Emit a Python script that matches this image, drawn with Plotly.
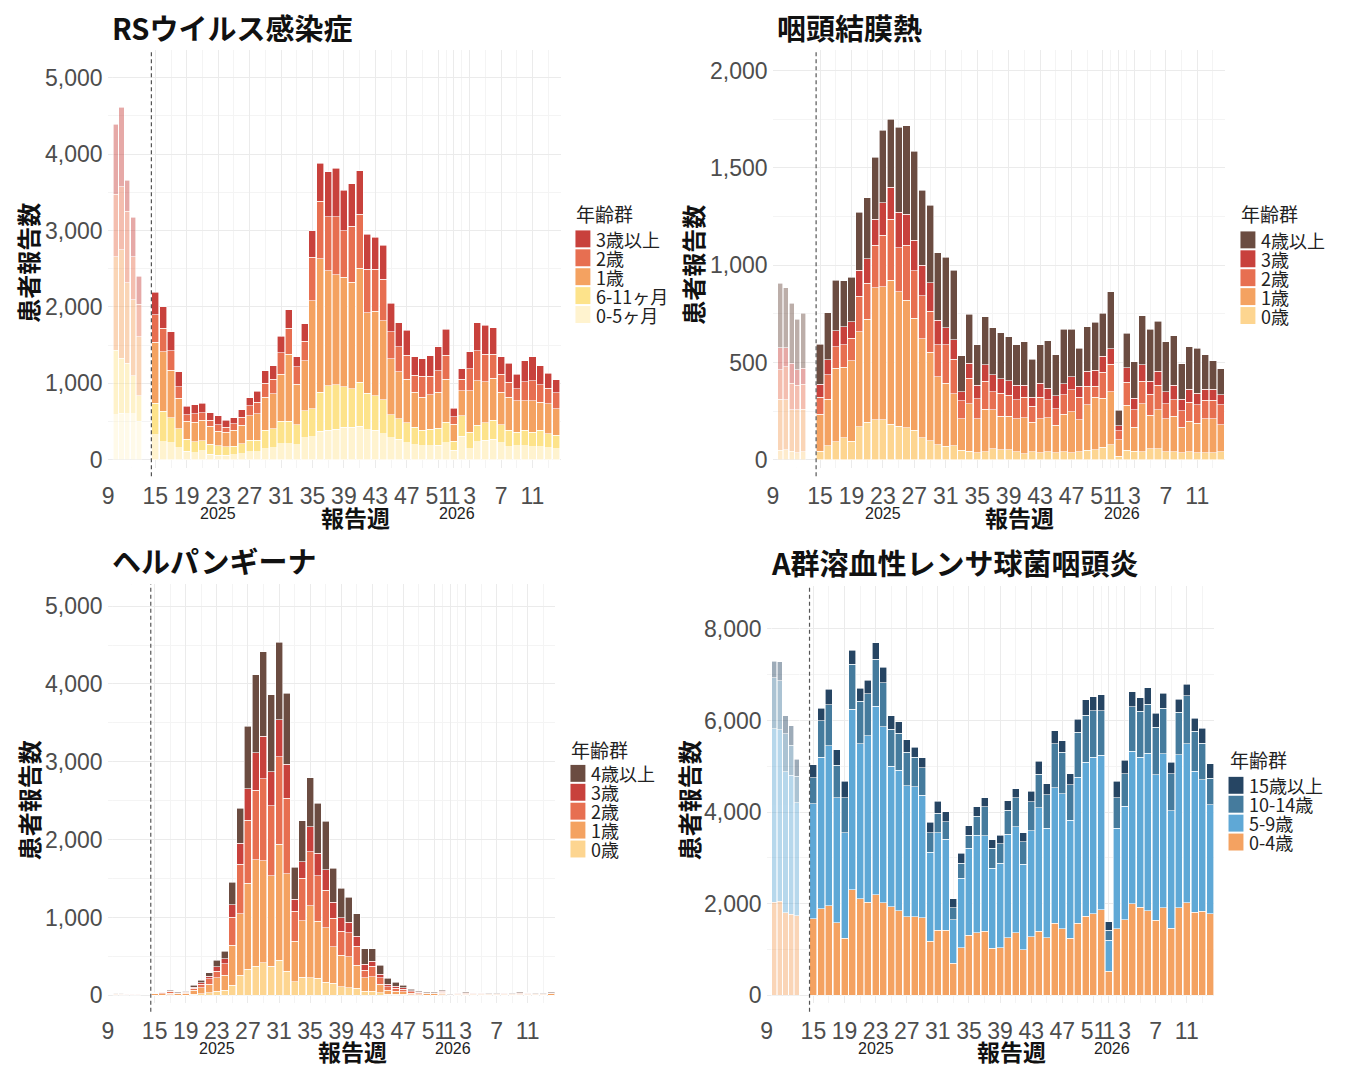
import plotly.graph_objects as go

W, H = 1345, 1069


def px(x):
    return x / W


def py(y):
    return 1 - y / H


# ---------------- x axis: report weeks ----------------
years = [2025] * 38 + [2026] * 14
weeks = list(range(15, 53)) + list(range(1, 15))
week_pos = [w if y == 2025 else w + 52 for y, w in zip(years, weeks)]
prev_weeks = [10, 11, 12, 13, 14]          # earlier weeks, shown faded
tick_pos = [9, 15, 19, 23, 27, 31, 35, 39, 43, 47, 51, 53, 55, 59, 63]
tick_text = ["9", "15", "19", "23", "27", "31", "35", "39", "43", "47", "51", "1", "3", "7", "11"]
minor_pos = [12, 17, 21, 25, 29, 33, 37, 41, 45, 49, 52, 54, 57, 61, 65]

# ---------------- RS virus ----------------
rs_names = ["0-5ヶ月", "6-11ヶ月", "1歳", "2歳", "3歳以上"]
rs_colors = ["#FFF3CF", "#FDE38B", "#F4A261", "#E76F51", "#C8413C"]
rs_0_5m = [330, 234, 225, 160, 113, 95, 117, 74, 61, 61, 69, 82, 104, 104, 147, 156, 212, 212, 199, 290,
           299, 372, 390, 398, 429, 429, 442, 394, 385, 342, 286, 268, 225, 199, 182, 182, 190, 225,
           126, 312, 147, 234, 255, 268, 221, 169, 182, 182, 169, 169, 156, 147]
rs_6_11m = [410, 402, 325, 247, 155, 139, 130, 130, 121, 108, 109, 130, 151, 151, 238, 251, 295, 295, 260, 355,
            368, 511, 580, 585, 528, 498, 571, 476, 455, 446, 303, 269, 260, 230, 203, 216, 226, 269,
            116, 268, 217, 216, 230, 247, 238, 216, 182, 203, 195, 216, 186, 173]
rs_1y = [800, 780, 623, 398, 239, 260, 268, 233, 190, 195, 207, 238, 325, 347, 433, 455, 614, 874, 533, 650,
         1416, 1745, 1507, 1437, 1429, 1398, 1494, 1053, 1104, 1035, 736, 615, 572, 454, 433, 455, 467, 563,
         221, 325, 541, 585, 537, 550, 424, 433, 411, 390, 411, 368, 390, 347]
rs_2y = [360, 307, 252, 152, 86, 108, 100, 78, 87, 65, 87, 109, 130, 151, 187, 195, 282, 338, 229, 259,
         567, 754, 701, 758, 610, 732, 706, 571, 550, 541, 351, 329, 311, 225, 273, 238, 282, 311,
         104, 152, 290, 390, 359, 316, 239, 195, 152, 247, 260, 230, 208, 208]
rs_3plus = [290, 277, 251, 195, 108, 117, 125, 100, 121, 86, 78, 95, 100, 143, 160, 173, 216, 247, 130, 226,
            346, 498, 589, 637, 529, 554, 571, 455, 416, 442, 376, 312, 325, 243, 234, 269, 312, 338,
            108, 138, 221, 368, 377, 347, 229, 251, 194, 273, 312, 247, 190, 173]
rs_prev_0_5m = [590, 612, 603, 603, 503]
rs_prev_6_11m = [847, 716, 660, 495, 335]
rs_prev_1y = [1223, 1419, 1055, 998, 772]
rs_prev_2y = [816, 825, 933, 564, 426]
rs_prev_3plus = [912, 1041, 408, 513, 364]

# ---------------- Pharyngoconjunctival fever ----------------
pcf_names = ["0歳", "1歳", "2歳", "3歳", "4歳以上"]
pcf_colors = ["#FDD590", "#F4A261", "#E76F51", "#C8413C", "#6B4C41"]
pcf_0y = [44, 73, 92, 113, 96, 169, 193, 206, 206, 184, 172, 164, 152, 113, 99, 78, 70, 73, 48, 44,
          36, 41, 58, 53, 53, 41, 31, 41, 36, 41, 36, 41, 36, 41, 48, 53, 65, 78,
          19, 49, 44, 41, 58, 58, 41, 41, 36, 41, 36, 36, 36, 41]
pcf_1y = [191, 239, 379, 363, 412, 490, 529, 679, 683, 739, 691, 657, 575, 508, 454, 350, 324, 266, 164, 243,
          176, 220, 200, 170, 170, 171, 184, 153, 176, 174, 141, 194, 210, 165, 235, 268, 252, 273,
          85, 231, 123, 246, 171, 200, 171, 182, 131, 157, 153, 176, 176, 140]
pcf_2y = [87, 125, 111, 114, 116, 182, 184, 217, 264, 312, 227, 281, 244, 222, 211, 162, 196, 178, 92, 133,
          102, 142, 93, 120, 108, 97, 106, 81, 109, 94, 86, 99, 114, 115, 94, 56, 132, 140,
          46, 119, 91, 116, 109, 124, 75, 86, 85, 99, 94, 93, 93, 102]
pcf_3y = [67, 77, 82, 94, 86, 133, 128, 133, 167, 166, 183, 159, 157, 157, 147, 128, 89, 99, 47, 76,
          68, 85, 86, 73, 75, 73, 61, 47, 73, 59, 66, 57, 68, 56, 77, 82, 82, 79,
          26, 75, 59, 85, 65, 72, 64, 73, 60, 66, 60, 58, 58, 51]
pcf_4plus = [206, 242, 259, 236, 227, 299, 312, 319, 374, 349, 435, 455, 457, 384, 396, 347, 363, 358, 185, 253,
             208, 247, 242, 237, 227, 208, 225, 195, 196, 244, 210, 279, 242, 196, 230, 247, 221, 293,
             78, 176, 188, 252, 267, 259, 256, 256, 181, 219, 230, 176, 147, 133]
pcf_prev_0y = [48, 53, 44, 36, 41]
pcf_prev_1y = [264, 256, 214, 222, 220]
pcf_prev_2y = [150, 170, 136, 124, 128]
pcf_prev_3y = [115, 98, 102, 80, 82]
pcf_prev_4plus = [329, 308, 308, 261, 281]

# ---------------- Herpangina ----------------
her_names = ["0歳", "1歳", "2歳", "3歳", "4歳以上"]
her_colors = pcf_colors
her_0y = [3, 4, 5, 3, 4, 15, 20, 34, 55, 64, 132, 256, 333, 375, 418, 375, 448, 311, 175, 235,
          226, 217, 171, 154, 111, 98, 90, 55, 55, 34, 17, 17, 12, 8, 5, 4, 4, 6,
          1, 3, 4, 3, 3, 3, 3, 3, 3, 4, 3, 3, 3, 4]
her_1y = [15, 18, 25, 17, 22, 50, 75, 107, 171, 192, 512, 793, 1108, 1365, 1313, 1160, 1496, 1250, 520, 724,
          925, 734, 695, 469, 401, 397, 298, 171, 184, 107, 47, 38, 35, 22, 16, 14, 14, 20,
          4, 11, 13, 11, 11, 9, 9, 11, 9, 13, 11, 9, 9, 14]
her_2y = [8, 10, 15, 10, 12, 28, 45, 72, 85, 149, 358, 635, 810, 895, 1053, 900, 1118, 968, 384, 546,
          695, 588, 481, 370, 311, 307, 243, 98, 136, 85, 47, 35, 30, 18, 13, 11, 11, 15,
          3, 8, 10, 8, 8, 7, 7, 8, 7, 10, 8, 7, 7, 11]
her_3y = [4, 5, 8, 5, 7, 12, 20, 34, 56, 68, 162, 269, 401, 482, 542, 435, 477, 439, 158, 213,
          320, 286, 265, 201, 171, 136, 128, 73, 64, 43, 30, 29, 20, 11, 8, 7, 7, 9,
          2, 5, 6, 5, 5, 4, 4, 5, 4, 6, 5, 4, 4, 7]
her_4plus = [6, 6, 11, 8, 10, 23, 32, 43, 81, 94, 286, 448, 806, 1002, 1087, 989, 994, 916, 409, 525,
             627, 640, 627, 439, 383, 320, 290, 200, 162, 115, 76, 52, 35, 18, 13, 11, 11, 14,
             3, 7, 10, 7, 7, 7, 7, 7, 7, 10, 7, 7, 7, 11]
her_prev_0y = [2, 2, 2, 2, 2]
her_prev_1y = [10, 9, 8, 8, 8]
her_prev_2y = [6, 6, 5, 5, 5]
her_prev_3y = [3, 3, 3, 3, 3]
her_prev_4plus = [5, 5, 4, 4, 4]

# ---------------- Group A streptococcal pharyngitis ----------------
gas_names = ["0-4歳", "5-9歳", "10-14歳", "15歳以上"]
gas_colors = ["#F4A261", "#5FA8D6", "#457B9D", "#264563"]
gas_0_4 = [1678, 1888, 1960, 1584, 1244, 2307, 2105, 2032, 2199, 2018, 1931, 1852, 1714, 1714, 1692, 1186,
           1425, 1418, 702, 1042, 1309, 1367, 1403, 1027, 1042, 1259, 1367, 991, 1280, 1403, 1259, 1570,
           1454, 1244, 1570, 1729, 1787, 1873, 521, 1454, 1656, 1996, 1924, 1852, 1635, 1910, 1461, 1910,
           2018, 1815, 1837, 1779]
gas_5_9 = [2510, 3313, 3494, 2734, 2307, 3942, 3385, 3639, 4108, 3848, 3067, 3059, 2857, 2836, 2677, 1939,
           2126, 1989, 954, 1518, 1902, 2134, 2083, 1750, 1844, 2256, 2315, 1873, 2315, 2691, 2386, 2958,
           2951, 2582, 3196, 3363, 3414, 3364, 687, 2191, 2474, 3335, 3277, 3435, 3182, 3363, 2568, 3341,
           3472, 3074, 2872, 2387]
gas_10_14 = [564, 795, 889, 702, 767, 977, 926, 918, 1027, 962, 817, 810, 738, 651, 600, 426,
             420, 383, 254, 326, 290, 412, 630, 434, 420, 528, 629, 492, 629, 730, 738, 962,
             904, 774, 977, 1027, 1012, 976, 217, 673, 709, 969, 998, 1071, 1035, 991, 810, 926,
             1049, 876, 795, 579]
gas_15plus = [282, 268, 340, 340, 354, 304, 289, 289, 362, 340, 290, 253, 268, 216, 217, 225,
              267, 217, 195, 217, 202, 203, 202, 181, 195, 203, 202, 195, 232, 282, 239, 289,
              253, 239, 289, 333, 304, 347, 181, 362, 289, 325, 303, 361, 303, 332, 253, 289,
              253, 289, 326, 311]
gas_prev_0_4 = [2038, 2060, 1807, 1771, 1734]
gas_prev_5_9 = [3780, 3736, 3071, 3035, 2472]
gas_prev_10_14 = [1120, 1070, 831, 650, 578]
gas_prev_15plus = [361, 419, 398, 434, 369]

# ---------------- panel layout (pixels) ----------------
panels = [
    dict(title="RSウイルス感染症", names=rs_names, colors=rs_colors,
         series=[rs_0_5m, rs_6_11m, rs_1y, rs_2y, rs_3plus],
         prev=[rs_prev_0_5m, rs_prev_6_11m, rs_prev_1y, rs_prev_2y, rs_prev_3plus],
         box=(102, 557, 50, 470), xr=[8.92, 66.57], fade=(107.3, 136.5),
         yr=[-104, 5365], dtick=1000, title_xy=(104, 27), leg=(572, 215, 240),
         ytitle=(22, 264), xtitle=(351, 519), years_y=516),
    dict(title="咽頭結膜熱", names=pcf_names, colors=pcf_colors,
         series=[pcf_0y, pcf_1y, pcf_2y, pcf_3y, pcf_4plus],
         prev=[pcf_prev_0y, pcf_prev_1y, pcf_prev_2y, pcf_prev_3y, pcf_prev_4plus],
         box=(770, 1224, 50, 470), xr=[8.96, 66.47], fade=(774.7, 803.6),
         yr=[-41, 2107], dtick=500, title_xy=(772, 27), leg=(1240, 215, 241),
         ytitle=(690, 266), xtitle=(1018, 519), years_y=516),
    dict(title="ヘルパンギーナ", names=her_names, colors=her_colors,
         series=[her_0y, her_1y, her_2y, her_3y, her_4plus],
         prev=[her_prev_0y, her_prev_1y, her_prev_2y, her_prev_3y, her_prev_4plus],
         box=(102, 551, 587, 1008), xr=[8.94, 66.45], fade=(107.3, 135.4),
         yr=[-102, 5281], dtick=1000, title_xy=(104, 563), leg=(567, 753, 777),
         ytitle=(22, 804), xtitle=(348, 1056), years_y=1053),
    dict(title="A群溶血性レンサ球菌咽頭炎", names=gas_names, colors=gas_colors,
         series=[gas_0_4, gas_5_9, gas_10_14, gas_15plus],
         prev=[gas_prev_0_4, gas_prev_5_9, gas_prev_10_14, gas_prev_15plus],
         box=(764, 1213, 589, 1008), xr=[8.98, 66.45], fade=(769.0, 797.0),
         yr=[-173, 8932], dtick=2000, title_xy=(766, 565), leg=(1228, 763, 789),
         ytitle=(685, 804), xtitle=(1010, 1056), years_y=1053),
]

TICK_FONT = dict(family="Liberation Sans, Noto Sans CJK JP", size=23, color="#4D4D4D")
CJK = "Noto Sans CJK JP"
GRID = "#EBEBEB"

fig = go.Figure()
annotations = []
shapes = []
layout = {}

for i, p in enumerate(panels, start=1):
    xa = "x" if i == 1 else f"x{i}"
    ya = "y" if i == 1 else f"y{i}"
    xf = f"x{i + 4}"

    # main stacked bars
    for name, color, vals in zip(p["names"], p["colors"], p["series"]):
        fig.add_trace(go.Bar(x=week_pos, y=vals, name=name, xaxis=xa, yaxis=ya,
                             marker=dict(color=color, line=dict(color="white", width=0.6)),
                             showlegend=False))
    # faded earlier weeks
    for name, color, vals in zip(p["names"], p["colors"], p["prev"]):
        fig.add_trace(go.Bar(x=prev_weeks, y=vals, name=name, xaxis=xf, yaxis=ya,
                             marker=dict(color=color, line=dict(color="white", width=0.6)),
                             opacity=0.45, showlegend=False))

    x0, x1, y0, y1 = p["box"]
    layout["xaxis" if i == 1 else f"xaxis{i}"] = dict(
        domain=[px(x0), px(x1)], anchor=ya, range=p["xr"],
        tickmode="array", tickvals=tick_pos, ticktext=tick_text, tickangle=0,
        showgrid=True, gridcolor=GRID, gridwidth=1, zeroline=False, showline=False,
        ticks="", tickfont=TICK_FONT, ticklabelstandoff=12,
        minor=dict(tickmode="array", tickvals=minor_pos, showgrid=True, gridcolor="#F4F4F4", gridwidth=0.8),
        fixedrange=True)
    layout[f"xaxis{i + 4}"] = dict(domain=[px(p["fade"][0]), px(p["fade"][1])], anchor=ya,
                                   range=[9.5, 14.5], visible=False, fixedrange=True)
    layout["yaxis" if i == 1 else f"yaxis{i}"] = dict(
        domain=[py(y1), py(y0)], anchor=xa, range=p["yr"],
        tickmode="linear", tick0=0, dtick=p["dtick"], tickformat=",",
        showgrid=True, gridcolor=GRID, gridwidth=1, zeroline=False, showline=False,
        ticks="", tickfont=TICK_FONT, ticklabelstandoff=4,
        minor=dict(tickmode="linear", tick0=0, dtick=p["dtick"] / 2, showgrid=True,
                   gridcolor="#F4F4F4", gridwidth=0.8),
        fixedrange=True)

    # legend (drawn as keyed swatches)
    lx, ty, iy = p["leg"]
    annotations.append(dict(text="年齢群", x=px(lx - 1), y=py(ty), xref="paper", yref="paper",
                            xanchor="left", yanchor="middle", showarrow=False,
                            font=dict(family=CJK, size=19, color="#222222")))
    for k, (name, color) in enumerate(zip(reversed(p["names"]), reversed(p["colors"]))):
        cy = iy + k * 19
        shapes.append(dict(type="rect", xref="paper", yref="paper",
                           x0=px(lx), x1=px(lx + 15), y0=py(cy + 8.5), y1=py(cy - 8.5),
                           fillcolor=color, line=dict(width=0)))
        annotations.append(dict(text=name, x=px(lx + 19), y=py(cy), xref="paper", yref="paper",
                                xanchor="left", yanchor="middle", showarrow=False,
                                font=dict(family=CJK, size=18, color="#222222")))

    # dashed separator between faded weeks and current season
    shapes.append(dict(type="line", xref=xa, yref=f"{ya} domain", x0=14.5, x1=14.5, y0=-0.02, y1=1,
                       line=dict(color="#555555", width=1.2, dash="4px,3px")))

    # titles
    annotations.append(dict(text=p["title"], x=px(p["title_xy"][0]), y=py(p["title_xy"][1]),
                            xref="paper", yref="paper", xanchor="left", yanchor="middle", showarrow=False,
                            font=dict(family=CJK, size=29, color="#111111", weight="bold")))
    annotations.append(dict(text="患者報告数", x=px(p["ytitle"][0]), y=py(p["ytitle"][1]),
                            xref="paper", yref="paper", xanchor="center", yanchor="middle", showarrow=False,
                            textangle=-90, font=dict(family=CJK, size=24, color="#111111", weight="bold")))
    annotations.append(dict(text="報告週", x=px(p["xtitle"][0]), y=py(p["xtitle"][1]),
                            xref="paper", yref="paper", xanchor="center", yanchor="middle", showarrow=False,
                            font=dict(family=CJK, size=23, color="#111111", weight="bold")))
    for yr_txt, pos in (("2025", 23), ("2026", 53.4)):
        annotations.append(dict(text=yr_txt, x=pos, xref=xa, y=py(p["years_y"]), yref="paper",
                                xanchor="center", yanchor="middle", showarrow=False,
                                font=dict(family="Liberation Sans, Noto Sans CJK JP", size=16, color="#222222")))

fig.update_layout(**layout)
fig.update_layout(
    width=W, height=H, margin=dict(l=0, r=0, t=0, b=0),
    paper_bgcolor="white", plot_bgcolor="white",
    barmode="stack", bargap=0.1, showlegend=False,
    annotations=annotations, shapes=shapes,
    font=dict(family=CJK),
)

fig.write_html(
    "out.html",
    config={"displayModeBar": False},
    post_script="document.body.style.margin='0px';",
)
